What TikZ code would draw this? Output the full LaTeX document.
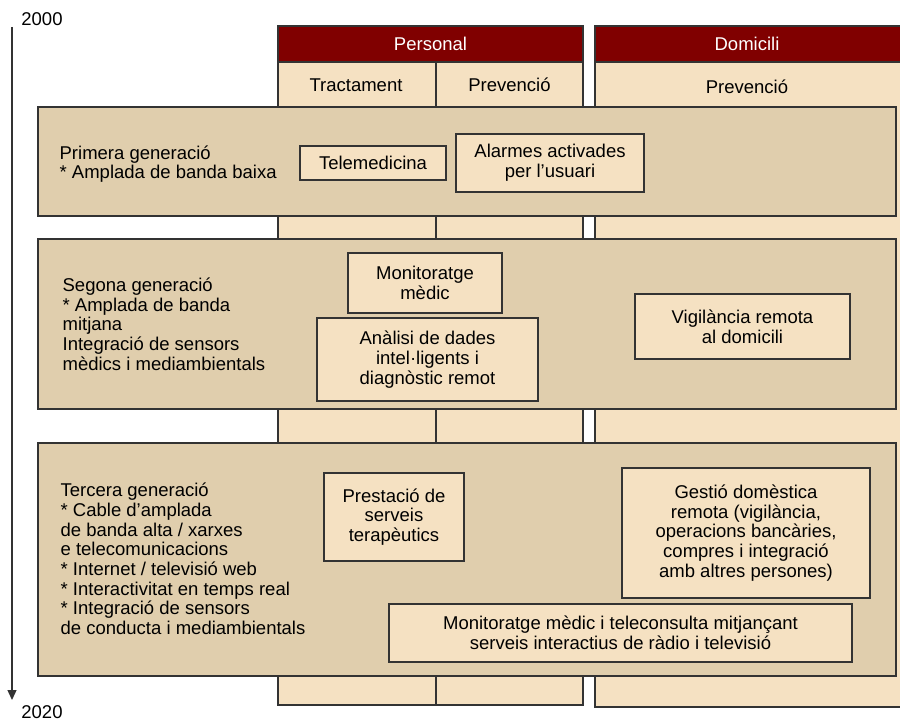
\documentclass[tikz,border=0pt]{standalone}
\usepackage{fontspec}
\setmainfont{Liberation Sans}
\usetikzlibrary{arrows.meta}
\definecolor{headred}{RGB}{128,0,0}
\definecolor{colfill}{RGB}{245,225,194}
\definecolor{bandfill}{RGB}{224,206,173}
\definecolor{edge}{RGB}{51,51,51}
\tikzset{
    lbl/.style={font=\fontsize{18.5}{19.7}\selectfont, inner sep=0pt},
    bandtext/.style={lbl, anchor=west, align=left},
    box/.style={lbl, draw=edge, fill=colfill, line width=1.3pt, align=center}
}
\begin{document}
\begin{tikzpicture}[x=1pt, y=-1pt, line width=1.3pt]
        \useasboundingbox (0,0) rectangle (900,722);

        % Timeline
        \node[lbl] (start) at (42,19) {2000};
        \node[lbl] (end) at (42,712) {2020};
        \coordinate (top) at (12,27);
        \coordinate (bottom) at (12,700);
        \draw [edge, -{Triangle[length=10pt,width=9pt]}] (top) -- (bottom);

        % Columns
        \draw [edge, fill=colfill] (278,62) rectangle (436,705);
        \draw [edge, fill=colfill] (436,62) rectangle (583,705);
        \draw [edge, fill=colfill] (595,62) rectangle (906,707);
        \draw [edge, fill=headred] (278,26) rectangle (583,62);
        \draw [edge, fill=headred] (595,26) rectangle (906,62);
        \node[lbl, white] (personal) at (430.5,44) {Personal};
        \node[lbl, white] (domicili) at (747,44) {Domicili};
        \node[lbl] (tract) at (356,85) {Tractament};
        \node[lbl] (prevp) at (509.5,85) {Prevenció};
        \node[lbl] (prevd) at (747,87) {Prevenció};

        % Primera generacio
        \draw [edge, fill=bandfill] (38,107) rectangle (896,216);
        \node[bandtext] (gen1) at (59,164) {Primera generació\\* Amplada de banda baixa};
        \node[box, minimum width=146pt, minimum height=34pt] (telemed) at (373,163) {Telemedicina};
        \node[box, minimum width=188pt, minimum height=58pt] (alarmes) at (550,163) {Alarmes activades\\per l’usuari};

        % Segona generacio
        \draw [edge, fill=bandfill] (38,239) rectangle (896,409);
        \node[bandtext] (gen2) at (62,324) {Segona generació\\* Amplada de banda\\mitjana\\Integració de sensors\\mèdics i mediambientals};
        \node[box, minimum width=154pt, minimum height=60pt] (monitor) at (425,283) {Monitoratge\\mèdic};
        \node[box, minimum width=221pt, minimum height=83pt] (analisi) at (427.5,359.5) {Anàlisi de dades\\intel·ligents i\\diagnòstic remot};
        \node[box, minimum width=215pt, minimum height=65pt] (vigila) at (742.5,326.5) {Vigilància remota\\al domicili};

        % Tercera generacio
        \draw [edge, fill=bandfill] (38,443) rectangle (896,676);
        \node[bandtext] (gen3) at (60,559) {Tercera generació\\* Cable d’amplada\\de banda alta / xarxes\\e telecomunicacions\\* Internet / televisió web\\* Interactivitat en temps real\\* Integració de sensors\\de conducta i mediambientals};
        \node[box, minimum width=140pt, minimum height=88pt] (prestacio) at (394,517) {Prestació de\\serveis\\terapèutics};
        \node[box, minimum width=248pt, minimum height=130pt] (gestio) at (746,533) {Gestió domèstica\\remota (vigilància,\\operacions bancàries,\\compres i integració\\amb altres persones)};
        \node[box, minimum width=463pt, minimum height=58pt] (teleconsulta) at (620.5,633) {Monitoratge mèdic i teleconsulta mitjançant\\serveis interactius de ràdio i televisió};
\end{tikzpicture}
\end{document}
